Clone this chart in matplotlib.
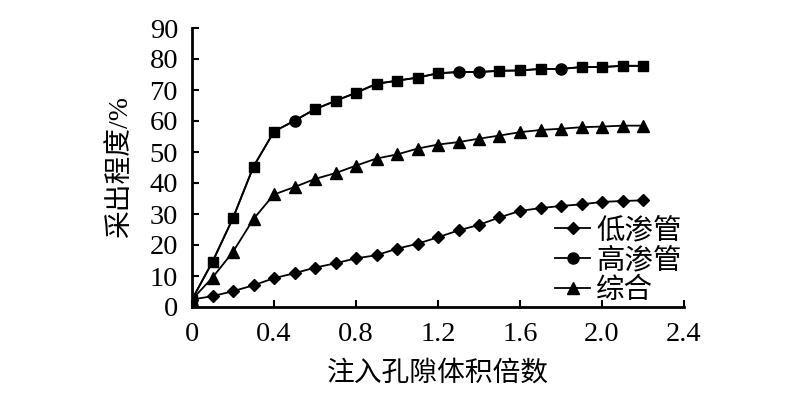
import numpy as np
import matplotlib
matplotlib.use("Agg")
import matplotlib.pyplot as plt

plt.rcParams['font.family'] = ['Liberation Serif', 'Noto Sans CJK SC']

# injected pore volume (PV)
pv = [0.0, 0.1, 0.2, 0.3, 0.4, 0.5, 0.6, 0.7, 0.8, 0.9, 1.0, 1.1,
      1.2, 1.3, 1.4, 1.5, 1.6, 1.7, 1.8, 1.9, 2.0, 2.1, 2.2]

# recovery degree (%)
low_perm = [2.4, 3.5, 5.1, 7.0, 9.3, 10.9, 12.7, 14.1, 15.7, 16.7, 18.8, 20.4,
            22.5, 24.7, 26.5, 28.9, 31.0, 31.9, 32.6, 33.1, 33.9, 34.2, 34.4]
high_perm = [2.4, 14.6, 28.7, 45.3, 56.6, 60.1, 63.8, 66.5, 69.1, 72.0, 73.0, 74.0,
             75.4, 75.8, 75.8, 76.2, 76.3, 76.8, 76.8, 77.4, 77.4, 77.8, 77.8]
combined = [2.4, 9.5, 17.8, 28.4, 36.3, 38.7, 41.3, 43.2, 45.6, 47.9, 49.2, 51.1,
            52.4, 53.2, 54.3, 55.3, 56.4, 57.1, 57.5, 58.0, 58.2, 58.5, 58.5]

# the high-perm curve mixes squares and circles in the original
circle_idx = [5, 13, 14, 18]
square_idx = [i for i in range(len(pv)) if i not in circle_idx]

fig = plt.figure(figsize=(8, 4), dpi=100)
ax = fig.add_axes([0.24, 0.2325, 0.615, 0.6975])

ax.plot(pv, low_perm, '-', color='k', lw=1.3, marker='D', ms=6, label='低渗管')
ax.plot(pv, high_perm, '-', color='k', lw=1.3, marker='s', ms=7,
        markevery=square_idx, label='_nolegend_')
ax.plot(pv, high_perm, '-', color='k', lw=1.3, marker='o', ms=8,
        markevery=circle_idx, label='高渗管')
ax.plot(pv, combined, '-', color='k', lw=1.3, marker='^', ms=8, label='综合')

ax.set_xlim(0, 2.4)
ax.set_ylim(0, 90)
ax.set_xticks(np.arange(0, 2.41, 0.4))
ax.set_xticklabels(['0', '0.4', '0.8', '1.2', '1.6', '2.0', '2.4'])
ax.set_yticks(np.arange(0, 91, 10))

for s in ['top', 'right']:
    ax.spines[s].set_visible(False)
for s in ['left', 'bottom']:
    ax.spines[s].set_linewidth(2)

ax.tick_params(direction='in', length=5, width=1.5, labelsize=20.5)
ax.tick_params(axis='x', pad=11)
ax.tick_params(axis='y', pad=10)

ax.set_xlabel('注入孔隙体积倍数', fontsize=20, fontweight='light', labelpad=10)
ax.set_ylabel('采出程度/%', fontsize=20, fontweight='light', labelpad=12)

leg = ax.legend(loc='lower right', bbox_to_anchor=(1.03, -0.05), frameon=False,
                prop={'size': 20.5, 'weight': 'light'}, handlelength=1.25,
                handletextpad=0.2, labelspacing=0.12, borderaxespad=0.2)

fig.savefig('out.png', dpi=100)
